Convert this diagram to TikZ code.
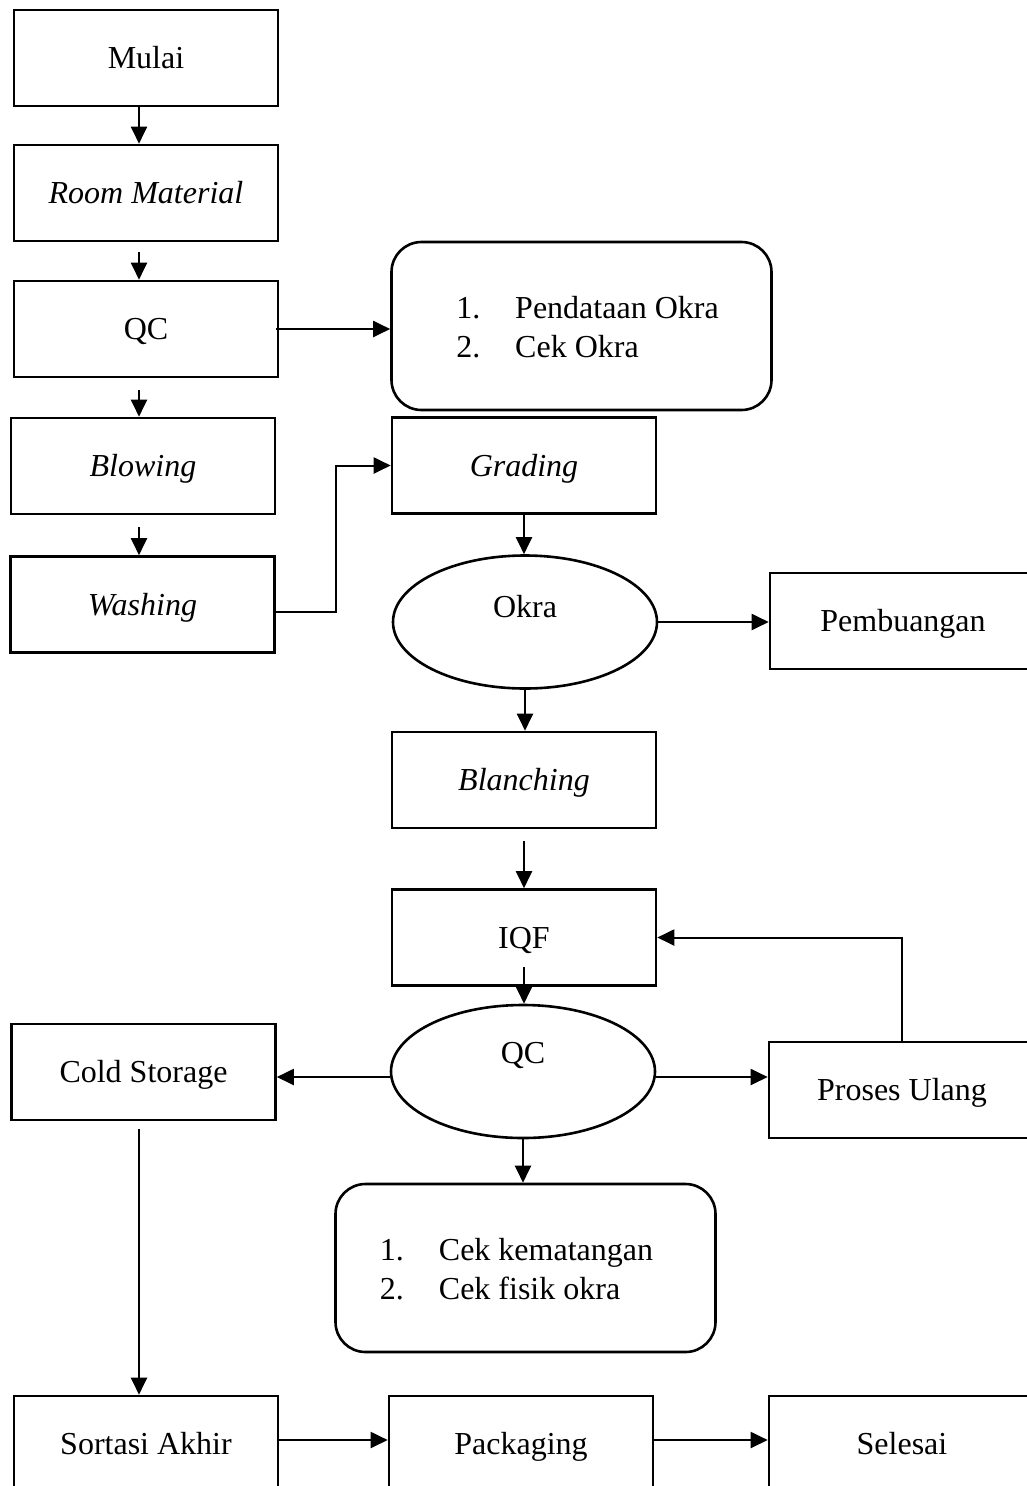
\documentclass[tikz,border=0pt]{standalone}
\usepackage{fontspec}
\setmainfont{Liberation Serif}
\usetikzlibrary{arrows.meta,shapes.geometric}
\newcommand{\fsz}{\fontsize{32}{39}\selectfont}
\newcommand{\listA}{\begin{tabular}{@{}l@{\hspace{35pt}}l@{}}1. & Pendataan Okra\\ 2. & Cek Okra\end{tabular}}
\newcommand{\listB}{\begin{tabular}{@{}l@{\hspace{35pt}}l@{}}1. & Cek kematangan\\ 2. & Cek fisik okra\end{tabular}}
\begin{document}
\begin{tikzpicture}[x=1pt,y=-1pt,
  box/.style={draw,line width=2.6pt,minimum width=264pt,minimum height=96pt,inner sep=0pt,font=\fsz,text height=28pt,text depth=7pt},
  listbox/.style={draw,line width=2.6pt,rounded corners=30pt,minimum width=380pt,minimum height=168pt,inner sep=0pt,font=\fsz},
  oval/.style={draw,ellipse,line width=2.6pt,minimum width=264pt,minimum height=133pt,inner sep=0pt,font=\fsz},
  lbl/.style={font=\fsz,inner sep=0pt},
  arr/.style={line width=2pt,-{Triangle[length=17pt,width=16pt]}}]
\useasboundingbox (0,0) rectangle (1027,1486);
\clip (0,0) rectangle (1027,1486);
\node[box] (mulai) at (146,58) {Mulai};
\node[box] (room) at (146,193) {\itshape Room Material};
\node[box] (qc1) at (146,329) {QC};
\node[box] (blow) at (143,466) {\itshape Blowing};
\node[box] (wash) at (142.5,604.5) {\itshape Washing};
\node[listbox,label={[lbl,xshift=6pt,yshift=-4pt]center:\listA}] (list1) at (581.5,326) {};
\node[box] (grad) at (524,465.5) {\itshape Grading};
\node[oval,label={[lbl,yshift=15pt]center:Okra}] (okra) at (525,622) {};
\node[box,minimum width=266pt] (buang) at (903,621) {Pembuangan};
\node[box] (blanch) at (524,780) {\itshape Blanching};
\node[box] (iqf) at (524,937.5) {IQF};
\node[oval,label={[lbl,yshift=16pt]center:QC}] (qc2) at (523,1071.5) {};
\node[box] (cold) at (143.5,1072) {Cold Storage};
\node[box,minimum width=266pt] (ulang) at (902,1090) {Proses Ulang};
\node[listbox,label={[lbl,xshift=-9pt,yshift=-4pt]center:\listB}] (list2) at (525.5,1268) {};
\node[box] (sort) at (146,1444) {Sortasi Akhir};
\node[box] (pack) at (521,1444) {Packaging};
\node[box,minimum width=266pt] (selesai) at (902,1444) {Selesai};
\draw[arr] ([xshift=-7pt]mulai.south) -- ([xshift=-7pt]room.north);
\draw[arr] ([xshift=-7pt,yshift=-10pt]room.south) -- ([xshift=-7pt]qc1.north);
\draw[arr] ([xshift=-7pt,yshift=-12pt]qc1.south) -- ([xshift=-4pt]blow.north);
\draw[arr] ([xshift=-4pt,yshift=-12pt]blow.south) -- ([xshift=-3.5pt]wash.north);
\draw[arr] ([xshift=-3pt]qc1.east) -- (qc1.east -| list1.west);
\draw[arr] ([yshift=-7.5pt]wash.east) -- ++(60,0) |- (grad.west);
\draw[arr] (grad.south) -- (grad.south |- okra.north);
\draw[arr] (okra.east) -- (okra.east -| buang.west);
\draw[arr] (okra.south) -- (okra.south |- blanch.north);
\draw[arr] ([yshift=-12pt]blanch.south) -- (iqf.north);
\draw[arr] ([yshift=20pt]iqf.south) -- (iqf.south |- qc2.north);
\draw[arr] ([yshift=-5.5pt]qc2.west) -- ([yshift=-5.5pt]qc2.west -| cold.east);
\draw[arr] ([yshift=-5.5pt]qc2.east) -- ([yshift=-5.5pt]qc2.east -| ulang.west);
\draw[arr] (ulang.north) |- (iqf.east);
\draw[arr] (qc2.south) -- (qc2.south |- list2.north);
\draw[arr] ([xshift=-4.5pt,yshift=-8pt]cold.south) -- ([xshift=-7pt]sort.north);
\draw[arr] ([yshift=4pt]sort.east) -- ([yshift=4pt]pack.west);
\draw[arr] ([yshift=4pt]pack.east) -- ([yshift=4pt]selesai.west);
\end{tikzpicture}
\end{document}
